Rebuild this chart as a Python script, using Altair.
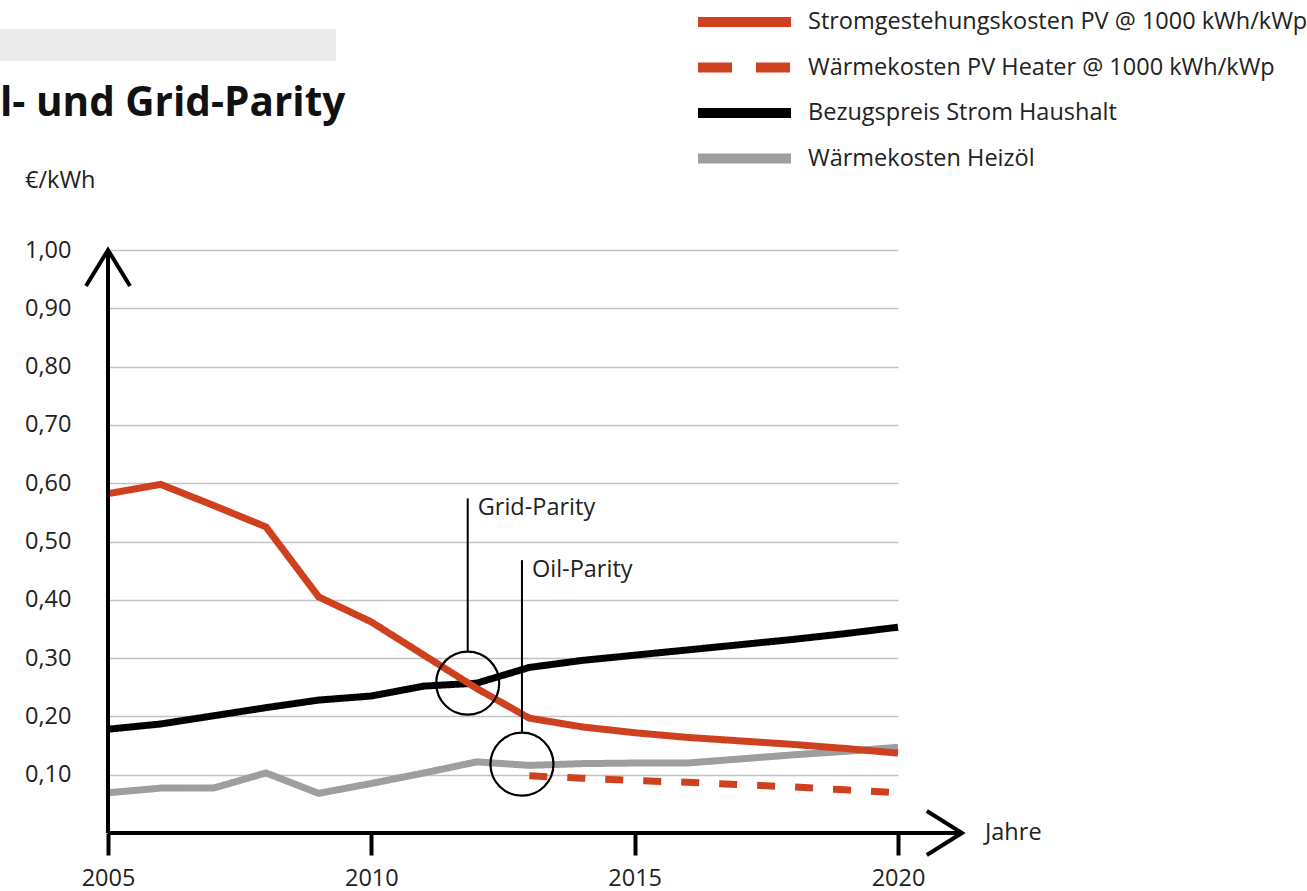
import altair as alt
import pandas as pd

# ---------------- data ----------------
years = [2005, 2006, 2007, 2008, 2009, 2010, 2011, 2012,
         2013, 2014, 2015, 2016, 2017, 2018, 2019, 2020]
pv_cost = [0.582, 0.598, 0.562, 0.525, 0.405, 0.362, 0.305, 0.248,
           0.197, 0.182, 0.172, 0.164, 0.158, 0.152, 0.145, 0.137]
grid_price = [0.178, 0.187, 0.201, 0.215, 0.228, 0.235, 0.252, 0.257,
              0.284, 0.296, 0.305, 0.314, 0.323, 0.332, 0.342, 0.353]
oil_heat = [0.069, 0.077, 0.077, 0.103, 0.068, 0.085, 0.103, 0.122,
            0.116, 0.119, 0.120, 0.120, 0.127, 0.134, 0.140, 0.147]
heater_years = [2013, 2014, 2015, 2016, 2017, 2018, 2019, 2020]
pv_heater = [0.098, 0.094, 0.090, 0.087, 0.083, 0.079, 0.074, 0.069]

series_names = [
    "Stromgestehungskosten PV @ 1000 kWh/kWp",
    "Wärmekosten PV Heater @ 1000 kWh/kWp",
    "Bezugspreis Strom Haushalt",
    "Wärmekosten Heizöl",
]
series_colors = ["#cf401f", "#cf401f", "#000000", "#9e9e9e"]
line_dashes = [[1, 0], [18, 20], [1, 0], [1, 0]]
legend_dashes = [[1, 0], [34, 24], [1, 0], [1, 0]]
draw_order = [3, 2, 1, 0]

x_ticks = [2005, 2010, 2015, 2020]
y_ticks = [0.1, 0.2, 0.3, 0.4, 0.5, 0.6, 0.7, 0.8, 0.9, 1.0]

ann_labels = ["Grid-Parity", "Oil-Parity"]
ann_years = [2011.83, 2012.86]
ann_values = [0.257, 0.118]
ann_tops = [0.574, 0.468]

title_text = "l- und Grid-Parity"
unit_text = "€/kWh"
x_title = "Jahre"

# ---------------- table ----------------
rows = []
for y, v in zip(years, pv_cost):
    rows.append({"series": series_names[0], "year": y, "value": v})
for y, v in zip(heater_years, pv_heater):
    rows.append({"series": series_names[1], "year": y, "value": v})
for y, v in zip(years, grid_price):
    rows.append({"series": series_names[2], "year": y, "value": v})
for y, v in zip(years, oil_heat):
    rows.append({"series": series_names[3], "year": y, "value": v})
df = pd.DataFrame(rows)
ann = pd.DataFrame({"label": ann_labels, "year": ann_years,
                    "value": ann_values, "top": ann_tops})

FONT = "Open Sans"
TXT = "#222222"
FS = 23.5
W, H = 790, 583
LEFT, TOP = 108, 250

x_scale = alt.Scale(domain=[2005, 2020], nice=False, zero=False)
y_scale = alt.Scale(domain=[0, 1], nice=False, zero=False)

x_axis = alt.Axis(values=x_ticks, format="d", title=None, domain=False,
                  grid=False, ticks=True, tickSize=22, tickWidth=4,
                  tickColor="black", labelFontSize=FS, labelFont=FONT,
                  labelColor=TXT, labelPadding=11, labelFlush=False)
y_axis = alt.Axis(values=y_ticks, title=None, domain=False, ticks=False,
                  grid=True, gridColor="#c2c2c2", gridWidth=1.5,
                  labelExpr="replace(format(datum.value, '.2f'), '.', ',')",
                  labelFontSize=FS, labelFont=FONT, labelColor=TXT,
                  labelPadding=37)

X = alt.X("year:Q", scale=x_scale, axis=x_axis)
Y = alt.Y("value:Q", scale=y_scale, axis=y_axis)

layers = []

# title banner and texts (decoration)
base1 = alt.Chart(pd.DataFrame({"t": [title_text]}))
layers.append(base1.mark_rect(color="#ebebeb").encode(
    x=alt.value(-LEFT), x2=alt.value(336 - LEFT),
    y=alt.value(29 - TOP), y2=alt.value(61 - TOP)))
layers.append(base1.mark_text(align="left", baseline="alphabetic", fontSize=40.5,
                              fontWeight="bold", font=FONT, color="#111").encode(
    x=alt.value(-LEFT), y=alt.value(116 - TOP), text="t:N"))
layers.append(alt.Chart(pd.DataFrame({"t": [unit_text]})).mark_text(
    align="left", baseline="alphabetic", fontSize=FS, font=FONT, color=TXT).encode(
    x=alt.value(25 - LEFT), y=alt.value(188 - TOP), text="t:N"))

# data lines
for i in draw_order:
    layers.append(
        alt.Chart(df).transform_filter(alt.datum.series == series_names[i])
        .mark_line(color=series_colors[i], strokeWidth=7,
                   strokeDash=line_dashes[i], strokeJoin="miter")
        .encode(x=X, y=Y)
    )

# axes lines with arrows
ax = alt.Chart(pd.DataFrame({"a": [0]}))
layers.append(ax.mark_rule(color="black", strokeWidth=4).encode(
    x=alt.datum(2005), y=alt.datum(0), y2=alt.datum(1.0)))
layers.append(ax.mark_rule(color="black", strokeWidth=4).encode(
    x=alt.datum(2005), x2=alt.value(962 - LEFT), y=alt.datum(0)))
layers.append(ax.mark_point(shape="M-1,1.64L0,0L1,1.64", size=1936, filled=False,
                            color="black", strokeWidth=4, opacity=1,
                            strokeJoin="miter").encode(
    x=alt.datum(2005), y=alt.datum(1.0)))
layers.append(ax.mark_point(shape="M-1.6,-1L0,0L-1.6,1", size=1936, filled=False,
                            color="black", strokeWidth=4, opacity=1,
                            strokeJoin="miter").encode(
    x=alt.value(962 - LEFT), y=alt.datum(0)))
layers.append(alt.Chart(pd.DataFrame({"t": [x_title]})).mark_text(
    align="left", baseline="middle", fontSize=FS, font=FONT, color=TXT).encode(
    x=alt.value(985 - LEFT), y=alt.datum(0), text="t:N"))

# annotations
an = alt.Chart(ann)
layers.append(an.mark_point(shape="circle", size=3969, filled=False, color="black",
                            strokeWidth=2.2, opacity=1).encode(
    x=alt.X("year:Q", scale=x_scale, axis=x_axis),
    y=alt.Y("value:Q", scale=y_scale, axis=y_axis)))
layers.append(an.mark_rule(color="black", strokeWidth=2, y2Offset=-31.5).encode(
    x=alt.X("year:Q", scale=x_scale, axis=x_axis),
    y=alt.Y("top:Q", scale=y_scale, axis=y_axis), y2="value:Q"))
layers.append(an.mark_text(align="left", baseline="alphabetic", dx=10, dy=17,
                           fontSize=FS, font=FONT, color=TXT).encode(
    x=alt.X("year:Q", scale=x_scale, axis=x_axis),
    y=alt.Y("top:Q", scale=y_scale, axis=y_axis), text="label:N"))

# manual legend
LEG_Y0, LEG_STEP = 22, 45.5
for i, name in enumerate(series_names):
    yy = LEG_Y0 + i * LEG_STEP - TOP
    lg = alt.Chart(pd.DataFrame({"label": [name]}))
    layers.append(lg.mark_rule(color=series_colors[i], strokeWidth=10,
                               strokeDash=legend_dashes[i]).encode(
        x=alt.value(698 - LEFT), x2=alt.value(791 - LEFT), y=alt.value(yy)))
    layers.append(lg.mark_text(align="left", baseline="middle", fontSize=FS,
                               font=FONT, color=TXT).encode(
        x=alt.value(808 - LEFT), y=alt.value(yy), text="label:N"))

chart = alt.layer(*layers).properties(
    width=W, height=H, autosize="none",
    padding={"left": LEFT, "top": TOP, "right": 1307 - LEFT - W, "bottom": 891 - TOP - H},
    background="white",
).configure_view(stroke=None)

chart.save("out.html", embed_options={"renderer": "svg", "actions": False})
